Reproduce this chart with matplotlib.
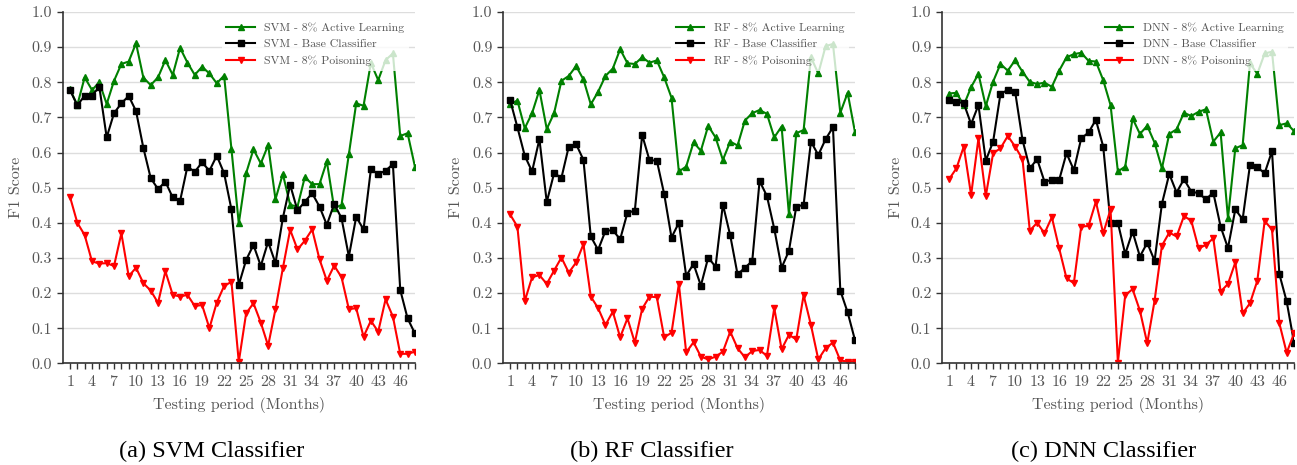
import numpy as np
import matplotlib
matplotlib.use('Agg')
from matplotlib import pyplot as plt

months = np.arange(1, 49)

svm_active = [0.78, 0.735, 0.814, 0.778, 0.80, 0.738, 0.804, 0.852, 0.859, 0.911,
              0.813, 0.792, 0.814, 0.863, 0.821, 0.898, 0.856, 0.821, 0.844, 0.825,
              0.797, 0.819, 0.61, 0.398, 0.541, 0.609, 0.569, 0.621, 0.467, 0.539,
              0.451, 0.446, 0.53, 0.51, 0.51, 0.575, 0.441, 0.451, 0.595, 0.74,
              0.733, 0.855, 0.806, 0.863, 0.882, 0.647, 0.655, 0.56]
svm_base = [0.778, 0.734, 0.762, 0.762, 0.787, 0.643, 0.712, 0.740, 0.761, 0.718,
            0.613, 0.527, 0.496, 0.517, 0.472, 0.462, 0.560, 0.545, 0.572, 0.548,
            0.591, 0.541, 0.438, 0.223, 0.294, 0.337, 0.277, 0.346, 0.285, 0.413,
            0.508, 0.435, 0.460, 0.484, 0.446, 0.394, 0.454, 0.413, 0.304, 0.417,
            0.381, 0.552, 0.539, 0.548, 0.567, 0.209, 0.128, 0.085]
svm_poison = [0.474, 0.400, 0.365, 0.290, 0.284, 0.285, 0.277, 0.370, 0.248, 0.272,
              0.228, 0.207, 0.172, 0.262, 0.195, 0.190, 0.195, 0.163, 0.166, 0.100,
              0.173, 0.220, 0.232, 0.004, 0.142, 0.171, 0.116, 0.050, 0.154, 0.270,
              0.380, 0.324, 0.349, 0.381, 0.296, 0.235, 0.278, 0.245, 0.154, 0.157,
              0.076, 0.121, 0.090, 0.182, 0.133, 0.027, 0.027, 0.033]

rf_active = [0.738, 0.748, 0.669, 0.712, 0.778, 0.667, 0.712, 0.804, 0.818, 0.846,
             0.808, 0.737, 0.773, 0.818, 0.839, 0.894, 0.854, 0.852, 0.871, 0.856,
             0.862, 0.814, 0.756, 0.546, 0.560, 0.629, 0.605, 0.676, 0.643, 0.579,
             0.631, 0.620, 0.691, 0.712, 0.721, 0.710, 0.643, 0.674, 0.424, 0.655,
             0.664, 0.871, 0.825, 0.903, 0.909, 0.713, 0.770, 0.658]
rf_base = [0.750, 0.672, 0.591, 0.546, 0.638, 0.459, 0.541, 0.528, 0.617, 0.624,
           0.579, 0.361, 0.323, 0.377, 0.379, 0.353, 0.429, 0.434, 0.650, 0.578,
           0.577, 0.482, 0.358, 0.400, 0.249, 0.283, 0.221, 0.301, 0.275, 0.452,
           0.364, 0.253, 0.272, 0.291, 0.519, 0.476, 0.383, 0.272, 0.320, 0.446,
           0.451, 0.631, 0.593, 0.638, 0.672, 0.207, 0.145, 0.066]
rf_poison = [0.424, 0.389, 0.177, 0.245, 0.251, 0.226, 0.264, 0.301, 0.258, 0.287,
             0.339, 0.190, 0.157, 0.109, 0.147, 0.074, 0.128, 0.059, 0.155, 0.190,
             0.188, 0.074, 0.087, 0.226, 0.031, 0.060, 0.019, 0.011, 0.019, 0.033,
             0.090, 0.043, 0.017, 0.035, 0.038, 0.021, 0.157, 0.040, 0.081, 0.068,
             0.194, 0.109, 0.011, 0.043, 0.059, 0.008, 0.005, 0.005]

dnn_active = [0.768, 0.770, 0.735, 0.786, 0.824, 0.732, 0.802, 0.852, 0.833, 0.863,
              0.830, 0.801, 0.795, 0.799, 0.787, 0.833, 0.871, 0.880, 0.884, 0.861,
              0.859, 0.806, 0.735, 0.546, 0.560, 0.697, 0.653, 0.676, 0.628, 0.555,
              0.653, 0.666, 0.713, 0.704, 0.716, 0.723, 0.631, 0.657, 0.413, 0.612,
              0.621, 0.854, 0.824, 0.882, 0.887, 0.678, 0.683, 0.661]
dnn_base = [0.750, 0.745, 0.740, 0.681, 0.735, 0.577, 0.631, 0.767, 0.778, 0.773,
            0.636, 0.555, 0.581, 0.517, 0.522, 0.522, 0.598, 0.550, 0.640, 0.657,
            0.693, 0.617, 0.400, 0.400, 0.311, 0.375, 0.304, 0.343, 0.292, 0.454,
            0.539, 0.486, 0.524, 0.489, 0.484, 0.467, 0.486, 0.389, 0.328, 0.438,
            0.410, 0.565, 0.558, 0.541, 0.604, 0.254, 0.176, 0.059]
dnn_poison = [0.524, 0.555, 0.617, 0.479, 0.640, 0.476, 0.598, 0.612, 0.647, 0.617,
              0.581, 0.378, 0.400, 0.370, 0.416, 0.327, 0.242, 0.228, 0.389, 0.391,
              0.460, 0.370, 0.438, 0.002, 0.194, 0.211, 0.150, 0.057, 0.178, 0.335,
              0.372, 0.361, 0.419, 0.406, 0.327, 0.337, 0.356, 0.204, 0.226, 0.287,
              0.142, 0.171, 0.235, 0.405, 0.381, 0.114, 0.030, 0.085]

names = ['SVM', 'RF', 'DNN']
captions = ['(a) SVM Classifier', '(b) RF Classifier', '(c) DNN Classifier']
results = [(svm_active, svm_base, svm_poison),
           (rf_active, rf_base, rf_poison),
           (dnn_active, dnn_base, dnn_poison)]

plt.rcParams['font.family'] = ['cmr10', 'DejaVu Serif']
plt.rcParams['axes.formatter.use_mathtext'] = True
plt.rcParams['mathtext.fontset'] = 'cm'

text_grey = '#555555'
fig = plt.figure(figsize=(12.97, 4.65), dpi=100)
lefts = [0.0483, 0.3876, 0.7261]
caption_x = [0.1632, 0.5027, 0.8512]

for i, (name, (active, base, poison)) in enumerate(zip(names, results)):
    ax = fig.add_axes([lefts[i], 0.2187, 0.2716, 0.7555])
    opts = {'linewidth': 1.5, 'markersize': 4.5}
    ax.plot(months, active, color='green', marker='^',
            label=name + ' - 8% Active Learning', **opts)
    ax.plot(months, base, color='black', marker='s',
            label=name + ' - Base Classifier', **opts)
    ax.plot(months, poison, color='red', marker='v',
            label=name + ' - 8% Poisoning', **opts)

    ax.set_xlim(0, 48)
    ax.set_ylim(0, 1.0)
    ax.set_xticks(np.arange(1, 48, 3))
    ax.set_xticks(months, minor=True)
    ax.set_yticks(np.arange(0, 1.01, 0.1))
    ax.set_yticklabels(['%.1f' % v for v in np.arange(0, 1.01, 0.1)])
    ax.yaxis.grid(True, color='#dddddd', linewidth=1)
    ax.set_axisbelow(True)
    for side in ['top', 'right']:
        ax.spines[side].set_visible(False)
    for side in ['left', 'bottom']:
        ax.spines[side].set_color('#333333')
        ax.spines[side].set_linewidth(1.2)
    ax.tick_params(axis='both', which='both', colors='#333333', labelcolor=text_grey,
                   labelsize=11.5, length=4, width=1)
    ax.tick_params(axis='x', which='minor', length=4)
    ax.set_xlabel('Testing period (Months)', color=text_grey, fontsize=11.5, labelpad=6)
    ax.set_ylabel('F1 Score', color=text_grey, fontsize=11.5, labelpad=6)

    leg = ax.legend(loc='upper right', fontsize=8.5, frameon=True, framealpha=0.8,
                    edgecolor='none', handlelength=2.4, borderaxespad=0.5,
                    labelspacing=0.5)
    for t in leg.get_texts():
        t.set_color(text_grey)

    # subfigure caption in the document's text face
    fig.text(caption_x[i], 0.0286, captions[i], ha='center', va='center',
             fontsize=17.5, family=['Liberation Serif', 'DejaVu Serif'], color='black')

fig.savefig('out.png', dpi=100)
